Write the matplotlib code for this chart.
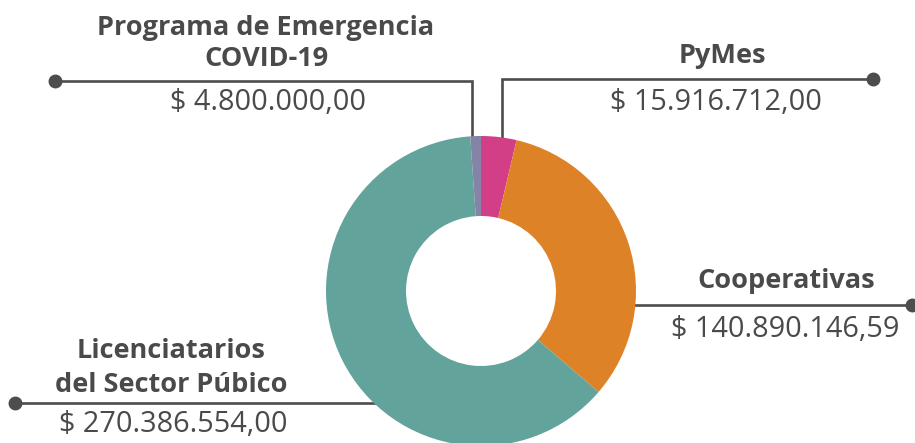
import matplotlib
matplotlib.use("Agg")
import matplotlib.pyplot as plt

categories = ["PyMes", "Cooperativas", "Licenciatarios\ndel Sector Púbico", "Programa de Emergencia\nCOVID-19"]
values = [15916712.00, 140890146.59, 270386554.00, 4800000.00]
value_labels = ["$ 15.916.712,00", "$ 140.890.146,59", "$ 270.386.554,00", "$ 4.800.000,00"]
colors = ["#d33f87", "#de8227", "#62a39b", "#8484a9"]

W, H = 915, 443
fig = plt.figure(figsize=(W / 100, H / 100), dpi=100)
ax = fig.add_axes([0, 0, 1, 1])

cx, cy = 481, H - 291
R, r = 155, 75
ax.pie(values, colors=colors, startangle=90, counterclock=False,
       radius=R, center=(cx, cy), frame=True,
       wedgeprops=dict(width=R - r, linewidth=0, zorder=2))
ax.set_xlim(0, W)
ax.set_ylim(0, H)
ax.set_aspect("equal")
ax.axis("off")

lc = "#4d4d4d"
tc = "#4a4a4a"
lw = 1.9

def Y(y):
    return H - y

# PyMes
ax.plot([502, 502, 873], [Y(140), Y(79), Y(79)], color=lc, lw=lw, solid_joinstyle="miter", zorder=1)
ax.plot([873], [Y(79)], "o", color=lc, ms=9, zorder=3)
# COVID
ax.plot([55, 472, 472], [Y(81), Y(81), Y(140)], color=lc, lw=lw, solid_joinstyle="miter", zorder=1)
ax.plot([55], [Y(81)], "o", color=lc, ms=9, zorder=3)
# Cooperativas
ax.plot([630, 912], [Y(305), Y(305)], color=lc, lw=lw, zorder=1)
ax.plot([912], [Y(305)], "o", color=lc, ms=9, zorder=3)
# Licenciatarios
ax.plot([15, 380], [Y(403), Y(403)], color=lc, lw=lw, zorder=1)
ax.plot([15], [Y(403)], "o", color=lc, ms=9, zorder=3)

fam = ["Open Sans", "DejaVu Sans"]
bold = dict(family=fam, fontweight="bold", color=tc, fontsize=19.5, ha="center", va="baseline")
reg = dict(family=fam, fontweight="normal", color=tc, fontsize=20.8, ha="center", va="baseline")

def label(x, baselines, text, style):
    for line, b in zip(text.split("\n"), baselines):
        ax.text(x, Y(b), line, **style)

label(722, [63], categories[0], bold)
label(716, [110], value_labels[0], reg)

label(786, [288], categories[1], bold)
label(785, [337], value_labels[1], reg)

label(171, [358, 392], categories[2], bold)
label(173, [432], value_labels[2], reg)

label(266, [35, 66], categories[3], bold)
label(268, [110], value_labels[3], reg)

fig.savefig("out.png", dpi=100)
